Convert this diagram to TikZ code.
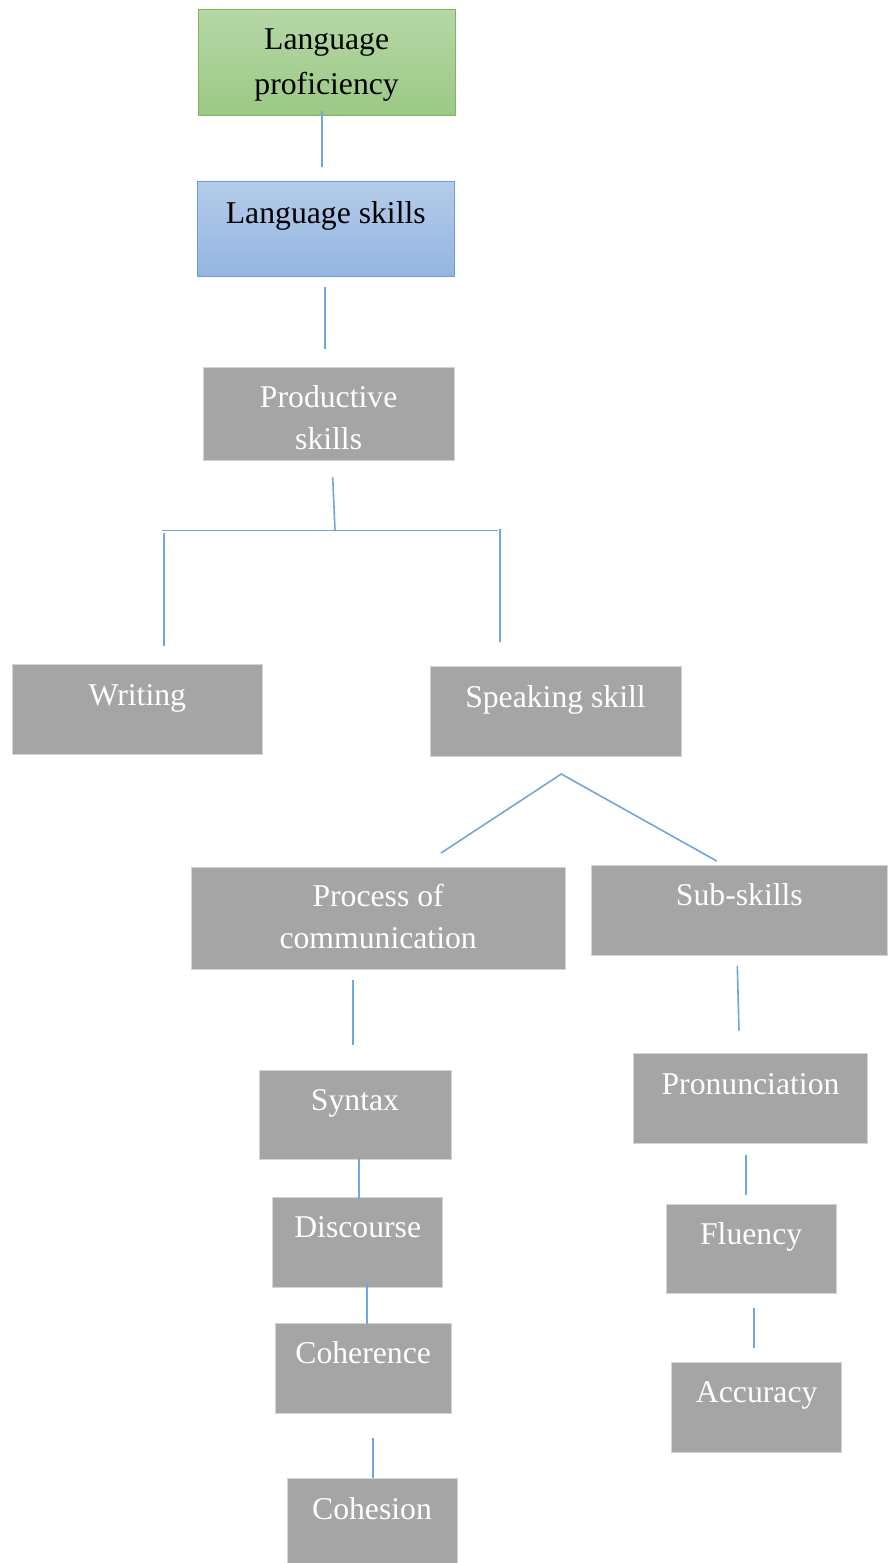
\documentclass[tikz,border=0pt]{standalone}
\usepackage{fontspec}
\setmainfont{Liberation Serif}
\definecolor{boxgray}{HTML}{A5A5A5}
\definecolor{boxedge}{HTML}{D4D4D4}
\definecolor{linkblue}{HTML}{6FA6DC}
\definecolor{greentop}{HTML}{B6D7A6}
\definecolor{greenbot}{HTML}{9BC985}
\definecolor{greenedge}{HTML}{7CB85A}
\definecolor{bluetop}{HTML}{B4CCEA}
\definecolor{bluebot}{HTML}{94B5E1}
\definecolor{blueedge}{HTML}{6A9FD6}
\tikzset{
  boxbase/.style={rectangle, inner sep=0pt, outer sep=0pt, line width=0.8pt},
  graybox/.style={boxbase, fill=boxgray, draw=boxedge},
  greenbox/.style={boxbase, top color=greentop, bottom color=greenbot, draw=greenedge},
  bluebox/.style={boxbase, top color=bluetop, bottom color=bluebot, draw=blueedge},
  lbl/.style={inner sep=0pt, anchor=base, font=\fontsize{31.7}{42}\selectfont},
  wlbl/.style={lbl, text=white},
  klbl/.style={lbl, text=black},
  link/.style={draw=linkblue, line width=1.6pt}
}
% box: style, name, x1, y1, x2, y2
\newcommand\chartbox[6]{%
  \node[#1, minimum width={#5-#3}, minimum height={#6-#4}] (#2) at ({(#3+#5)/2},{(#4+#6)/2}) {};}
\begin{document}
\begin{tikzpicture}[x=1pt,y=-1pt]
\useasboundingbox (0,0) rectangle (887,1563);

% ---- boxes ----
\chartbox{greenbox}{prof}{198.3}{9.3}{455}{115.7}
\chartbox{bluebox}{skills}{197.3}{181}{454.3}{276}
\chartbox{graybox}{prod}{203.3}{367.3}{454}{460.7}
\chartbox{graybox}{writ}{12}{664.7}{262.7}{754.3}
\chartbox{graybox}{speak}{430}{666}{681}{756.7}
\chartbox{graybox}{proc}{191}{867.3}{565.3}{969}
\chartbox{graybox}{sub}{591.7}{865}{887}{955.3}
\chartbox{graybox}{syn}{259}{1070}{451}{1159.3}
\chartbox{graybox}{disc}{272.7}{1197.7}{442.7}{1287.3}
\chartbox{graybox}{coher}{275}{1323.7}{451.3}{1413.3}
\chartbox{graybox}{cohes}{287}{1478.3}{457}{1563}
\chartbox{graybox}{pron}{633.3}{1053.3}{867.7}{1143.3}
\chartbox{graybox}{flu}{666}{1204}{836.3}{1293.7}
\chartbox{graybox}{acc}{671.7}{1362}{841.7}{1452}

% ---- labels ----
\node[klbl] (prof-a) at (prof |- 0,50) {Language};
\node[klbl] (prof-b) at (prof |- 0,95) {proficiency};
\node[klbl] (skills-a) at (skills |- 0,223) {Language skills};
\node[wlbl] (prod-a) at (prod |- 0,407) {Productive};
\node[wlbl] (prod-b) at (prod |- 0,449) {skills};
\node[wlbl] (writ-a) at (writ |- 0,705) {Writing};
\node[wlbl] (speak-a) at (speak |- 0,707) {Speaking skill};
\node[wlbl] (proc-a) at (proc |- 0,906.7) {Process of};
\node[wlbl] (proc-b) at (proc |- 0,948.3) {communication};
\node[wlbl] (sub-a) at (sub |- 0,905) {Sub-skills};
\node[wlbl] (syn-a) at (syn |- 0,1110) {Syntax};
\node[wlbl] (disc-a) at (disc |- 0,1237.3) {Discourse};
\node[wlbl] (coher-a) at (coher |- 0,1363.3) {Coherence};
\node[wlbl] (cohes-a) at (cohes |- 0,1519) {Cohesion};
\node[wlbl] (pron-a) at (pron |- 0,1094) {Pronunciation};
\node[wlbl] (flu-a) at (flu |- 0,1244) {Fluency};
\node[wlbl] (acc-a) at (acc |- 0,1402.7) {Accuracy};

% ---- connector end points ----
\coordinate (c1a) at (322,111);     \coordinate (c1b) at (322,166.7);
\coordinate (c2a) at (325,286.7);   \coordinate (c2b) at (325,349);
\coordinate (c3a) at (332.7,477.3); \coordinate (c3b) at (335,530.3);
\coordinate (barL) at (162,530.3);  \coordinate (barR) at (498.3,530.3);
\coordinate (c4a) at (163.7,532.7); \coordinate (c4b) at (163.7,646);
\coordinate (c5a) at (499.7,528.7); \coordinate (c5b) at (499.7,642.3);
\coordinate (apex) at (561.3,774);
\coordinate (c6b) at (441,853);     \coordinate (c7b) at (716.7,861);
\coordinate (c8a) at (352.7,980);   \coordinate (c8b) at (352.7,1045);
\coordinate (c9a) at (737.3,965.7); \coordinate (c9b) at (739,1030.7);
\coordinate (c10a) at (358.7,1158); \coordinate (c10b) at (358.7,1197.7);
\coordinate (c11a) at (366.7,1284); \coordinate (c11b) at (366.7,1324);
\coordinate (c12a) at (373,1438.3); \coordinate (c12b) at (373,1478.3);
\coordinate (c13a) at (745.7,1155); \coordinate (c13b) at (745.7,1195.3);
\coordinate (c14a) at (754,1308.3); \coordinate (c14b) at (754,1348.3);

% ---- connectors ----
\draw[link] (c1a) -- (c1b);
\draw[link] (c2a) -- (c2b);
\draw[link] (c3a) -- (c3b);
\draw[link] (barL) -- (barR);
\draw[link] (c4a) -- (c4b);
\draw[link] (c5a) -- (c5b);
\draw[link] (c6b) -- (apex) -- (c7b);
\draw[link] (c8a) -- (c8b);
\draw[link] (c9a) -- (c9b);
\draw[link] (c10a) -- (c10b);
\draw[link] (c11a) -- (c11b);
\draw[link] (c12a) -- (c12b);
\draw[link] (c13a) -- (c13b);
\draw[link] (c14a) -- (c14b);
\end{tikzpicture}
\end{document}
